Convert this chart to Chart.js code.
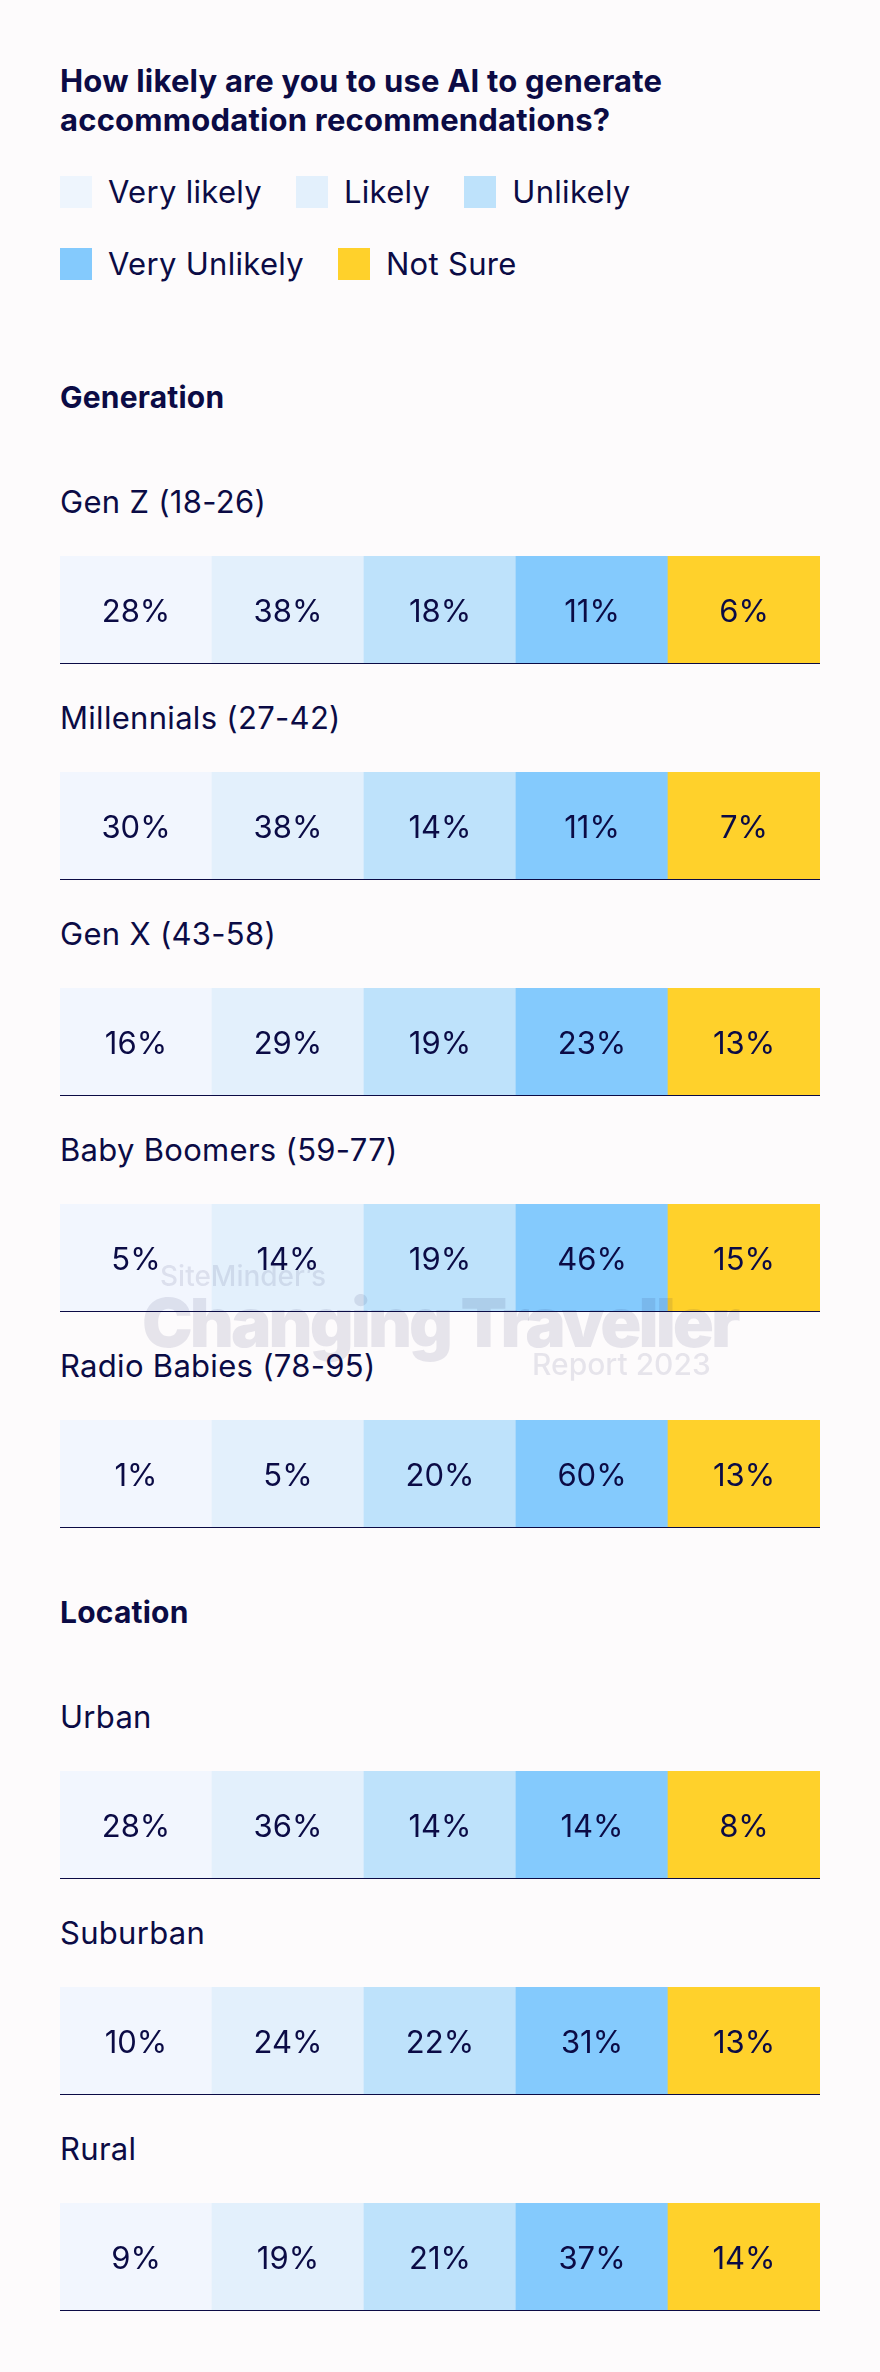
<!DOCTYPE html>
<html lang="en">
<head>
    <meta charset="UTF-8">
    <title>AI accommodation recommendations</title>
    <script src="https://cdn.jsdelivr.net/npm/chart.js"></script>
    <style>
        body {
            margin: 0;
            background: #fdfbfc;
            font-family: Inter, "Noto Sans", sans-serif;
            color: #0b0b45;
        }
        .page {
            position: relative;
            width: 880px;
            height: 2372px;
            overflow: hidden;
        }
        .content {
            padding-left: 60px;
            width: 760px;
        }
        h1 {
            margin: 61px 0 0 0;
            font-size: 31px;
            line-height: 39px;
            font-weight: 700;
            letter-spacing: 0.2px;
        }
        #legend {
            display: flex;
            flex-wrap: wrap;
            row-gap: 40px;
            margin-top: 37px;
        }
        .legend-item {
            display: flex;
            align-items: center;
            height: 32px;
            margin-right: 34px;
            font-size: 31px;
            line-height: 32px;
            letter-spacing: 0.3px;
        }
        .legend-box {
            width: 32px;
            height: 32px;
            margin-right: 16px;
        }
        h2 {
            margin: 0;
            font-size: 30px;
            line-height: 36px;
            font-weight: 700;
            letter-spacing: 0.2px;
        }
        .row-label {
            font-size: 31px;
            line-height: 36px;
            letter-spacing: 0.3px;
        }
        .bar-wrap {
            position: relative;
            height: 109px;
            margin-top: 36px;
        }
        .watermark {
            position: absolute;
            color: rgba(30, 30, 90, 0.1);
            line-height: 1;
            white-space: nowrap;
            pointer-events: none;
        }
    </style>
</head>
<body>
<div class="page">
    <div class="content">
        <h1>How likely are you to use AI to generate accommodation recommendations?</h1>
        <div id="legend"></div>
        <div id="sections"></div>
    </div>
    <div class="watermark" style="left:160px; top:1262px; font-size:28px; font-weight:500;">SiteMinder’s</div>
    <div class="watermark" style="left:142px; top:1288px; font-size:68px; font-weight:900; letter-spacing:-3px;">Changing Traveller</div>
    <div class="watermark" style="left:532px; top:1349px; font-size:30px; font-weight:500;">Report 2023</div>
</div>

<script>
    // answers and their colours
    const answers = ['Very likely', 'Likely', 'Unlikely', 'Very Unlikely', 'Not Sure'];
    const answerColors = ['#f2f6fe', '#e3f0fc', '#bee2fb', '#84cafd', '#ffd12b'];

    // Generation
    const generationRows = ['Gen Z (18-26)', 'Millennials (27-42)', 'Gen X (43-58)', 'Baby Boomers (59-77)', 'Radio Babies (78-95)'];
    const genZ = [28, 38, 18, 11, 6];
    const millennials = [30, 38, 14, 11, 7];
    const genX = [16, 29, 19, 23, 13];
    const babyBoomers = [5, 14, 19, 46, 15];
    const radioBabies = [1, 5, 20, 60, 13];

    // Location
    const locationRows = ['Urban', 'Suburban', 'Rural'];
    const urban = [28, 36, 14, 14, 8];
    const suburban = [10, 24, 22, 31, 13];
    const rural = [9, 19, 21, 37, 14];

    const sections = [
        { title: 'Generation', rows: generationRows, values: [genZ, millennials, genX, babyBoomers, radioBabies] },
        { title: 'Location', rows: locationRows, values: [urban, suburban, rural] }
    ];

    const navy = '#0b0b45';

    // legend
    const legend = document.getElementById('legend');
    answers.forEach((a, i) => {
        const item = document.createElement('div');
        item.className = 'legend-item';
        const box = document.createElement('span');
        box.className = 'legend-box';
        box.style.background = i === 0 ? '#eef5fd' : answerColors[i];
        const txt = document.createElement('span');
        txt.textContent = a;
        item.appendChild(box);
        item.appendChild(txt);
        legend.appendChild(item);
    });

    // percentage labels in the middle of each cell
    const cellLabels = {
        id: 'cellLabels',
        afterDatasetsDraw(chart) {
            const ctx = chart.ctx;
            const values = chart.options.plugins.cellLabels.values;
            const meta = chart.getDatasetMeta(0);
            ctx.save();
            ctx.font = '400 31px Inter, "Noto Sans", sans-serif';
            ctx.fillStyle = navy;
            ctx.textAlign = 'center';
            ctx.textBaseline = 'alphabetic';
            meta.data.forEach((bar, i) => {
                const mid = (bar.y + bar.base) / 2;
                ctx.fillText(values[i] + '%', bar.x, mid + 12);
            });
            ctx.restore();
        }
    };

    function drawRow(canvas, values) {
        new Chart(canvas, {
            type: 'bar',
            data: {
                labels: answers,
                datasets: [{
                    label: 'share',
                    // every cell fills the row; the number is shown as text
                    data: answers.map(() => 1),
                    backgroundColor: answerColors,
                    borderWidth: 0,
                    barPercentage: 1,
                    categoryPercentage: 1
                }]
            },
            options: {
                responsive: true,
                maintainAspectRatio: false,
                animation: false,
                layout: { padding: { bottom: 2 } },
                plugins: {
                    legend: { display: false },
                    tooltip: { enabled: false },
                    cellLabels: { values: values }
                },
                scales: {
                    x: {
                        grid: { display: false, drawTicks: false },
                        ticks: { display: false },
                        border: { display: true, color: navy, width: 2 }
                    },
                    y: {
                        display: false,
                        min: 0,
                        max: 1
                    }
                }
            },
            plugins: [cellLabels]
        });
    }

    const holder = document.getElementById('sections');
    sections.forEach((sec, s) => {
        const h = document.createElement('h2');
        h.textContent = sec.title;
        h.style.marginTop = s === 0 ? '99px' : '65px';
        holder.appendChild(h);

        sec.rows.forEach((name, r) => {
            const label = document.createElement('div');
            label.className = 'row-label';
            label.textContent = name;
            label.style.marginTop = r === 0 ? '69px' : '35px';
            holder.appendChild(label);

            const wrap = document.createElement('div');
            wrap.className = 'bar-wrap';
            const canvas = document.createElement('canvas');
            wrap.appendChild(canvas);
            holder.appendChild(wrap);

            drawRow(canvas, sec.values[r]);
        });
    });
</script>
</body>
</html>
